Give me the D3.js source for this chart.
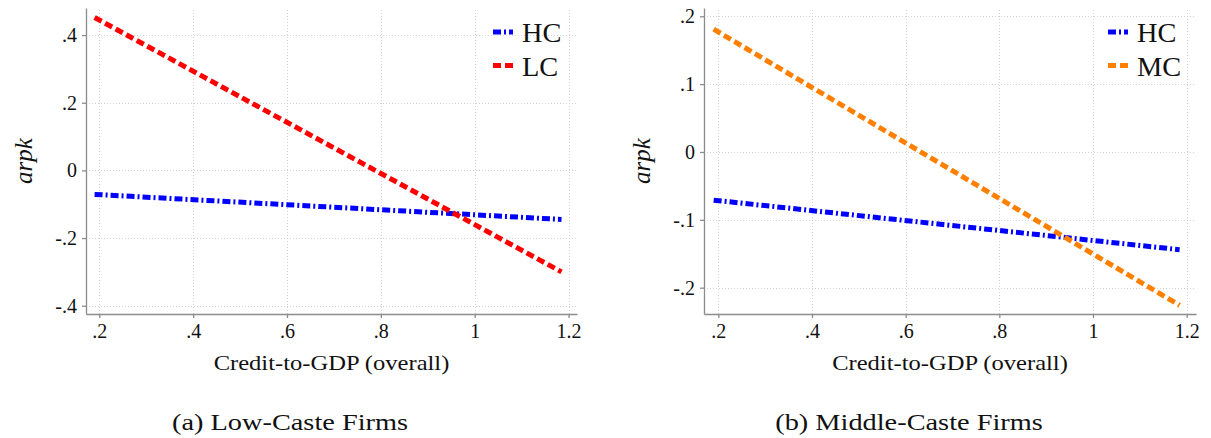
<!DOCTYPE html>
<html>
<head>
<meta charset="utf-8">
<script src="https://cdn.jsdelivr.net/npm/d3@7"></script>
<style>
  html, body { margin: 0; padding: 0; background: #fff; }
  svg { display: block; }
  text { font-family: "Liberation Serif", "Times New Roman", serif; fill: #111; }
</style>
</head>
<body>
<svg id="chart" width="1211" height="438"></svg>
<script>
// Predicted arpk against credit-to-GDP, endpoints of the fitted lines
const creditX = [0.19, 1.185];

// Panel (a): high-caste vs low-caste firms
const hcLow = [-0.071, -0.145];
const lcLow = [0.452, -0.300];

// Panel (b): high-caste vs middle-caste firms
const hcMid = [-0.071, -0.144];
const mcMid = [0.181, -0.226];

const xTicks = [0.2, 0.4, 0.6, 0.8, 1.0, 1.2];
const yTicksLow = [-0.4, -0.2, 0, 0.2, 0.4];
const yTicksMid = [-0.2, -0.1, 0, 0.1, 0.2];

const captions = ["(a) Low-Caste Firms", "(b) Middle-Caste Firms"];
const xTitle = "Credit-to-GDP (overall)";
const yTitle = "arpk";

// Stata-style labels: drop the leading zero, plain hyphen for negatives
const fmt = v => {
  if (Math.abs(v) < 1e-9) return "0";
  const s = String(+v.toFixed(4));
  return s.replace(/^(-?)0\./, "$1.");
};

const svg = d3.select("#chart");

const styles = {
  hc: { color: "#0000ff", dash: "8,3,2,3" },
  lc: { color: "#ff0000", dash: "8,4" },
  mc: { color: "#ff8000", dash: "8,4" }
};

const panels = [
  {
    left: 86, right: 577, top: 8, bottom: 314,
    xDomain: [0.1717, 1.218], yDomain: [-0.4245, 0.48],
    yTicks: yTicksLow,
    series: [
      { name: "HC", values: hcLow, style: styles.hc },
      { name: "LC", values: lcLow, style: styles.lc }
    ],
    legendX: 493, caption: captions[0], captionX: 290, yTitleX: 25
  },
  {
    left: 704, right: 1196, top: 8, bottom: 314,
    xDomain: [0.1694, 1.22], yDomain: [-0.2388, 0.2122],
    yTicks: yTicksMid,
    series: [
      { name: "HC", values: hcMid, style: styles.hc },
      { name: "MC", values: mcMid, style: styles.mc }
    ],
    legendX: 1108, caption: captions[1], captionX: 909, yTitleX: 643
  }
];

// centred text, widened horizontally to book-face proportions
function wideText(g, cx, y, size, sx, str) {
  return g.append("text")
    .attr("transform", `translate(${cx},${y}) scale(${sx},1)`)
    .attr("text-anchor", "middle")
    .style("font-size", size + "px")
    .text(str);
}

panels.forEach(p => {
  const g = svg.append("g");
  const x = d3.scaleLinear().domain(p.xDomain).range([p.left, p.right]);
  const y = d3.scaleLinear().domain(p.yDomain).range([p.bottom, p.top]);

  // dotted grid
  const grid = g.append("g").attr("stroke", "#d4d4d4").attr("stroke-width", 1)
    .attr("stroke-dasharray", "1,2");
  grid.selectAll(".gx").data(xTicks).join("line")
    .attr("x1", d => Math.round(x(d)) + 0.5).attr("x2", d => Math.round(x(d)) + 0.5)
    .attr("y1", p.bottom).attr("y2", p.top);
  grid.selectAll(".gy").data(p.yTicks).join("line")
    .attr("y1", d => Math.round(y(d)) + 0.5).attr("y2", d => Math.round(y(d)) + 0.5)
    .attr("x1", p.left).attr("x2", p.right);

  // axes
  const xAxis = g.append("g").attr("transform", `translate(0,${p.bottom})`)
    .call(d3.axisBottom(x).tickValues(xTicks).tickFormat(fmt).tickSize(4).tickPadding(6).tickSizeOuter(0));
  const yAxis = g.append("g").attr("transform", `translate(${p.left},0)`)
    .call(d3.axisLeft(y).tickValues(p.yTicks).tickFormat(fmt).tickSize(4).tickPadding(5).tickSizeOuter(0));
  [xAxis, yAxis].forEach(a => {
    a.attr("font-family", null).attr("font-size", null);
    a.select(".domain").attr("stroke", "#8c8c8c").attr("stroke-width", 1.3);
    a.selectAll(".tick line").attr("stroke", "#8c8c8c").attr("stroke-width", 1.3);
    a.selectAll(".tick text").attr("fill", "#111")
      .style("font-family", '"Liberation Serif", serif').style("font-size", "20px");
  });

  // fitted lines
  const line = d3.line().x(d => x(d[0])).y(d => y(d[1]));
  p.series.forEach(s => {
    g.append("path")
      .datum(creditX.map((cx, i) => [cx, s.values[i]]))
      .attr("d", line)
      .attr("fill", "none")
      .attr("stroke", s.style.color)
      .attr("stroke-width", 5)
      .attr("stroke-dasharray", s.style.dash);
  });

  // legend
  p.series.forEach((s, i) => {
    const ly = 32 + i * 33.5;
    g.append("line")
      .attr("x1", p.legendX).attr("x2", p.legendX + 20)
      .attr("y1", ly).attr("y2", ly)
      .attr("stroke", s.style.color).attr("stroke-width", 5)
      .attr("stroke-dasharray", s.style.dash);
    g.append("text")
      .attr("transform", `translate(${p.legendX + 29},${ly + 10}) scale(1.05,1)`)
      .style("font-size", "27px")
      .text(s.name);
  });

  // titles
  wideText(g, (p.left + p.right) / 2, 370, 21, 1.17, xTitle);
  g.append("text")
    .attr("transform", `translate(${p.yTitleX + 7},161) rotate(-90)`)
    .attr("text-anchor", "middle").style("font-size", "25px").style("font-style", "italic")
    .text(yTitle);

  wideText(g, p.captionX, 430, 22.5, 1.26, p.caption);
});
</script>
</body>
</html>
